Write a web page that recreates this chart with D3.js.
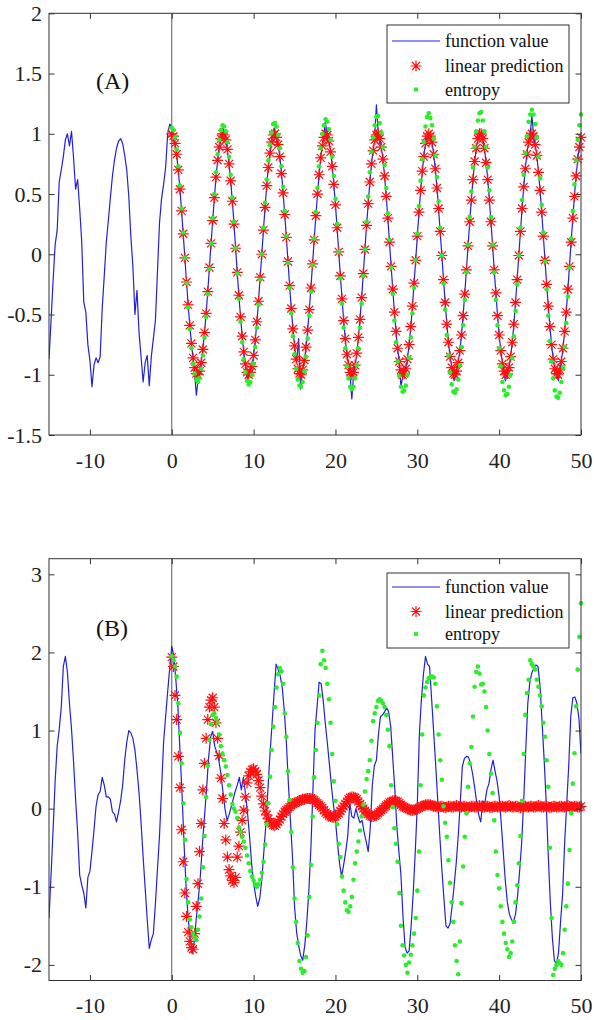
<!DOCTYPE html>
<html><head><meta charset="utf-8">
<script src="https://cdn.jsdelivr.net/npm/d3@7"></script>
<style>body{margin:0;background:#fff}svg{display:block}svg text{font-family:"Liberation Serif","Times New Roman","DejaVu Serif",serif}</style>
</head><body>
<script>
// ---------- data ----------
const xTicks = [-10, 0, 10, 20, 30, 40, 50];
const yTicksA = [2, 1.5, 1, 0.5, 0, -0.5, -1, -1.5];
const yTicksB = [3, 2, 1, 0, -1, -2];
const legendLabels = ["function value", "linear prediction", "entropy"];
const panelLabels = ["(A)", "(B)"];
const funcStart = -15, funcStep = 0.25;   // sampling grid of the function value curve
const predStart = 0, predStep = 0.2;      // sampling grid of the two predictions

const fA = [
-0.87,-0.55,-0.22,0.08,0.20,0.60,0.70,0.81,0.95,1.00,
0.90,1.02,0.80,0.54,0.62,0.38,0.10,-0.40,-0.48,-0.75,
-0.88,-1.10,-0.92,-0.86,-0.90,-0.85,-0.45,-0.18,0.10,0.28,
0.47,0.65,0.78,0.88,0.94,0.96,0.92,0.82,0.70,0.48,
0.15,-0.10,-0.50,-0.30,-0.65,-0.85,-1.06,-0.90,-0.84,-1.09,
-0.85,-0.70,-0.55,-0.15,0.26,0.46,0.58,0.72,1.00,1.08,
1.06,0.95,0.88,0.73,0.54,0.31,0.07,-0.18,-0.42,-0.63,
-0.80,-0.95,-1.17,-1.02,-0.94,-0.82,-0.65,-0.45,-0.21,0.04,
0.28,0.51,0.71,0.86,0.96,1.05,0.98,0.89,0.75,0.57,
0.35,0.10,-0.15,-0.39,-0.60,-0.78,-0.91,-1.05,-0.97,-0.95,
-0.84,-0.68,-0.48,-0.24,0.00,0.25,0.48,0.69,0.84,0.95,
1.05,0.98,0.91,0.78,0.60,0.38,0.14,-0.11,-0.36,-0.58,
-0.76,-0.90,-0.70,-1.12,-0.96,-0.86,-0.71,-0.51,-0.28,-0.03,
0.22,0.45,0.66,0.83,0.94,1.10,0.99,0.92,0.80,0.62,
0.41,0.17,-0.08,-0.32,-0.55,-0.74,-0.88,-0.97,-1.20,-0.97,
-0.88,-0.73,-0.54,-0.31,-0.06,0.19,0.42,0.64,0.81,0.93,
1.24,0.99,0.93,0.82,0.65,0.44,0.20,-0.05,-0.29,-0.52,
-0.72,-0.87,-1.10,-1.00,-0.98,-0.89,-0.75,-0.57,-0.34,-0.10,
0.15,0.39,0.60,0.79,0.92,0.99,1.00,0.95,0.83,0.67,
0.47,0.23,-0.01,-0.26,-0.49,-0.69,-0.85,-0.95,-1.05,-0.98,
-0.90,-0.77,-0.59,-0.37,-0.13,0.12,0.36,0.58,0.77,0.90,
0.98,1.00,0.96,0.85,0.70,0.50,0.27,0.02,-0.23,-0.46,
-0.67,-0.83,-0.94,-1.05,-0.99,-0.92,-0.79,-0.62,-0.40,-0.16,
0.09,0.33,0.56,0.75,0.89,0.97,1.15,0.96,0.87,0.72,
0.53,0.30,0.05,-0.20,-0.43,-0.64,-0.81,-0.93,-0.99,-1.05,
-0.93,-0.81,-0.64,-0.43,-0.19,0.06,0.30,0.53,0.72,0.87,
0.97];

const lpA = [
1.00,0.98,0.92,0.83,0.70,0.54,0.36,0.17,-0.03,-0.23,-0.42,-0.59,-0.74,-0.86,-0.94,-0.99,-1.00,-0.97,-0.90,-0.79,-0.65,-0.49,-0.31,-0.11,0.09,0.28,0.47,0.64,0.78,0.89,0.96,1.00,
0.99,0.95,0.87,0.75,0.61,0.44,0.25,0.05,-0.15,-0.34,-0.52,-0.68,-0.81,-0.91,-0.98,-1.00,-0.98,-0.93,-0.84,-0.71,-0.56,-0.39,-0.19,0.00,0.20,0.39,0.57,0.72,0.84,0.93,0.99,
1.00,0.97,0.91,0.81,0.67,0.51,0.33,0.14,-0.06,-0.26,-0.45,-0.62,-0.76,-0.87,-0.95,-0.99,-1.00,-0.96,-0.88,-0.77,-0.63,-0.46,-0.28,-0.08,0.12,0.32,0.50,0.66,0.80,0.90,0.97,1.00,
0.99,0.94,0.85,0.73,0.58,0.41,0.22,0.02,-0.18,-0.37,-0.55,-0.70,-0.83,-0.92,-0.98,-1.00,-0.98,-0.92,-0.82,-0.69,-0.54,-0.36,-0.16,0.04,0.24,0.42,0.60,0.75,0.86,0.95,0.99,
1.00,0.96,0.89,0.79,0.65,0.48,0.30,0.10,-0.10,-0.29,-0.48,-0.64,-0.78,-0.89,-0.96,-1.00,-0.99,-0.95,-0.87,-0.75,-0.60,-0.43,-0.24,-0.05,0.15,0.35,0.53,0.69,0.81,0.92,0.98,
1.00,0.98,0.93,0.83,0.71,0.55,0.38,0.19,-0.01,-0.21,-0.40,-0.58,-0.73,-0.85,-0.94,-0.99,-1.00,-0.97,-0.90,-0.80,-0.67,-0.51,-0.33,-0.13,0.07,0.27,0.45,0.62,0.77,0.88,0.96,1.00,
1.00,0.96,0.88,0.76,0.62,0.45,0.27,0.07,-0.13,-0.32,-0.51,-0.67,-0.80,-0.91,-0.97,-1.00,-0.99,-0.94,-0.85,-0.73,-0.58,-0.40,-0.21,-0.01,0.19,0.38,0.56,0.71,0.83,0.93,0.98,
1.00,0.98,0.91,0.82,0.68,0.53,0.35,0.15,-0.05,-0.25,-0.43,-0.60,-0.75,-0.87,-0.95,-0.99,-1.00,-0.96,-0.89,-0.78,-0.64,-0.48,-0.29,-0.10,0.10,0.30,0.48,0.65,0.79,0.89,0.97];

const enA = [
1.05,1.03,0.97,0.87,0.73,0.57,0.38,0.18,-0.03,-0.24,-0.44,-0.62,-0.78,-0.91,-0.99,-1.04,-1.06,-1.03,-0.95,-0.84,-0.69,-0.52,-0.33,-0.12,0.09,0.30,0.50,0.68,0.83,0.95,1.03,1.07,
1.06,1.02,0.93,0.81,0.66,0.47,0.27,0.05,-0.16,-0.37,-0.56,-0.73,-0.87,-0.98,-1.05,-1.08,-1.06,-1.00,-0.91,-0.77,-0.61,-0.42,-0.21,0.00,0.22,0.43,0.62,0.78,0.91,1.01,1.08,
1.09,1.06,0.99,0.88,0.73,0.56,0.36,0.15,-0.07,-0.28,-0.49,-0.68,-0.83,-0.95,-1.04,-1.09,-1.10,-1.06,-0.97,-0.85,-0.70,-0.51,-0.31,-0.09,0.13,0.35,0.55,0.73,0.88,1.00,1.07,1.12,
1.10,1.04,0.95,0.81,0.65,0.46,0.25,0.02,-0.20,-0.41,-0.61,-0.78,-0.93,-1.03,-1.10,-1.12,-1.10,-1.03,-0.92,-0.78,-0.61,-0.41,-0.18,0.04,0.27,0.48,0.68,0.85,0.97,1.07,1.14,
1.15,1.09,1.01,0.89,0.74,0.55,0.34,0.12,-0.11,-0.33,-0.55,-0.73,-0.89,-1.01,-1.10,-1.14,-1.13,-1.09,-1.00,-0.86,-0.69,-0.49,-0.28,-0.05,0.17,0.40,0.61,0.79,0.93,1.06,1.14,
1.17,1.13,1.07,0.96,0.82,0.64,0.44,0.22,-0.01,-0.24,-0.46,-0.67,-0.84,-0.98,-1.08,-1.14,-1.15,-1.12,-1.04,-0.92,-0.77,-0.59,-0.38,-0.15,0.08,0.31,0.52,0.72,0.89,1.02,1.11,1.17,
1.18,1.11,1.02,0.89,0.72,0.53,0.31,0.08,-0.15,-0.38,-0.59,-0.78,-0.93,-1.06,-1.13,-1.17,-1.16,-1.10,-1.00,-0.86,-0.68,-0.47,-0.25,-0.01,0.22,0.45,0.66,0.84,0.98,1.10,1.16,
1.20,1.16,1.08,0.97,0.81,0.63,0.41,0.18,-0.06,-0.29,-0.51,-0.72,-0.89,-1.03,-1.13,-1.18,-1.19,-1.15,-1.06,-0.94,-0.77,-0.57,-0.35,-0.11,0.13,0.36,0.58,0.78,0.95,1.07,1.16];

const fB = [
-1.40,-0.85,-0.27,0.35,0.80,1.02,1.30,1.82,1.95,1.75,
1.35,1.02,0.60,0.12,-0.31,-0.85,-0.98,-1.08,-1.27,-0.88,
-0.80,-0.55,-0.27,0.03,0.18,0.22,0.40,0.30,0.15,0.15,
0.12,-0.04,-0.07,-0.17,-0.04,0.10,0.30,0.62,0.85,1.00,
0.97,0.90,0.75,0.50,0.20,-0.18,-0.62,-1.02,-1.42,-1.79,
-1.68,-1.60,-1.22,-0.78,-0.35,0.25,0.85,1.18,1.50,1.80,
2.08,1.95,1.65,1.30,0.75,0.20,-0.45,-1.00,-1.40,-1.65,
-1.85,-1.70,-1.40,-1.15,-0.85,-0.45,-0.10,0.25,0.65,0.92,
0.99,0.80,0.72,0.62,0.45,0.22,0.00,-0.15,-0.08,0.02,
0.12,0.22,0.30,0.40,0.24,0.40,0.20,-0.05,-0.35,-0.70,
-0.95,-1.12,-1.25,-1.15,-0.91,-0.55,-0.20,0.25,0.70,1.08,
1.48,1.85,1.78,1.70,1.55,1.25,0.85,0.32,-0.15,-0.62,
-1.25,-1.58,-1.75,-1.88,-1.94,-1.75,-1.45,-1.05,-0.50,0.25,
1.00,1.30,1.62,1.60,1.39,1.10,0.85,0.58,0.30,0.05,
-0.15,-0.45,-0.70,-0.87,-0.72,-0.55,-0.35,0.07,-0.10,-0.12,
0.00,-0.10,-0.18,-0.15,-0.30,-0.42,-0.55,-0.25,0.30,0.55,
0.62,0.95,1.18,1.20,1.24,1.29,1.24,1.05,0.65,0.25,
-0.23,-0.55,-0.85,-1.38,-1.77,-1.85,-1.82,-1.50,-1.08,-0.55,
0.05,0.95,1.40,1.72,1.95,1.85,1.82,1.40,0.98,0.55,
0.10,-0.35,-0.78,-1.15,-1.50,-1.53,-1.47,-1.25,-0.98,-0.70,
-0.35,0.08,0.54,0.64,0.67,0.66,0.58,0.45,0.28,0.08,
-0.08,-0.17,0.10,0.07,0.24,0.32,0.50,0.62,0.48,0.35,
0.15,-0.18,-0.55,-0.92,-1.20,-1.35,-1.42,-1.45,-1.35,-1.12,
-0.80,-0.44,0.10,0.75,1.35,1.62,1.74,1.80,1.84,1.82,
1.56,1.10,0.62,0.08,-0.60,-1.20,-1.65,-1.95,-1.98,-1.85,
-1.45,-1.10,-0.44,0.05,0.55,1.18,1.42,1.43,1.35,1.15,
0.70];

const lpB = [
1.94,1.82,1.45,1.14,0.67,0.27,-0.27,-0.68,-1.08,-1.38,
-1.58,-1.70,-1.78,-1.80,-1.60,-1.25,-0.96,-0.55,-0.19,0.24,
0.58,0.90,1.14,1.30,1.39,1.42,1.30,1.10,0.90,0.68,
0.39,0.13,-0.19,-0.40,-0.62,-0.78,-0.86,-0.92,-0.95,-0.88,
-0.62,-0.48,-0.30,-0.15,-0.02,0.15,0.33,0.42,0.47,0.50,
0.51,0.48,0.44,0.36,0.27,0.16,0.06,-0.03,-0.08,-0.13,
-0.17,-0.19,-0.21,-0.22,-0.20,-0.17,-0.14,-0.10,-0.07,-0.04,
-0.02,0.00,0.02,0.04,0.06,0.07,0.08,0.09,0.10,0.11,
0.12,0.12,0.13,0.13,0.13,0.13,0.12,0.11,0.09,0.07,
0.05,0.03,0.01,-0.02,-0.05,-0.07,-0.09,-0.10,-0.11,-0.11,
-0.10,-0.08,-0.06,-0.03,0.00,0.03,0.06,0.09,0.12,0.14,
0.15,0.15,0.14,0.12,0.09,0.06,0.03,0.00,-0.03,-0.05,
-0.07,-0.09,-0.10,-0.10,-0.09,-0.08,-0.06,-0.04,-0.02,0.00,
0.02,0.04,0.06,0.08,0.09,0.10,0.10,0.10,0.09,0.07,
0.05,0.03,0.02,0.01,0.00,-0.01,-0.02,-0.02,-0.02,-0.01,
0.00,0.01,0.02,0.03,0.04,0.05,0.05,0.05,0.05,0.04,
0.03,
0.03,0.02,0.02,0.03,0.03,0.02,0.01,0.02,0.03,0.03,
0.02,0.02,0.03,0.04,0.03,0.02,0.02,0.03,0.03,0.02,
0.01,0.02,0.03,0.03,0.02,0.02,0.03,0.04,0.03,0.02,
0.02,0.03,0.03,0.02,0.01,0.02,0.03,0.03,0.02,0.02,
0.03,0.03,0.02,0.02,0.03,0.04,0.03,0.02,0.02,0.03,
0.03,0.02,0.01,0.02,0.03,0.03,0.02,0.02,0.03,0.03,
0.02,0.02,0.03,0.04,0.03,0.02,0.02,0.03,0.03,0.02,
0.01,0.02,0.03,0.03,0.02,0.02,0.03,0.03,0.02,0.02,
0.03,0.04,0.03,0.02,0.02,0.03,0.03,0.02,0.02,0.03];

const enB = [
1.95,1.90,1.82,1.69,1.35,0.97,0.58,0.07,-0.40,-0.90,
-1.20,-1.42,-1.52,-1.60,-1.65,-1.68,-1.55,-1.38,-1.15,-0.75,
-0.35,0.15,0.55,0.88,1.08,1.20,1.22,1.16,1.10,0.95,
0.80,0.70,0.62,0.54,0.43,0.30,0.18,0.06,0.00,-0.04,
-0.12,-0.24,-0.30,-0.36,-0.42,-0.50,-0.60,-0.70,-0.80,-0.87,
-0.92,-0.97,-1.00,-0.97,-0.91,-0.82,-0.68,-0.46,-0.20,0.07,
0.41,0.75,1.05,1.30,1.55,1.72,1.80,1.76,1.60,1.22,
0.92,0.48,0.11,-0.30,-0.75,-1.15,-1.45,-1.72,-1.95,-2.05,
-2.10,-2.08,-1.90,-1.62,-1.13,-0.72,-0.10,0.40,0.75,1.10,
1.45,1.85,2.02,1.90,1.80,1.60,1.40,1.10,0.70,0.35,
0.10,-0.20,-0.45,-0.62,-0.87,-1.05,-1.20,-1.30,-1.32,-1.25,
-1.13,-0.91,-0.70,-0.55,-0.42,-0.28,-0.10,0.05,0.22,0.38,
0.48,0.62,0.87,1.12,1.22,1.30,1.38,1.40,1.38,1.35,
1.30,1.20,1.01,0.80,0.30,0.02,-0.25,-0.45,-0.68,-1.08,
-1.50,-1.75,-1.88,-2.00,-2.10,-1.97,-1.87,-1.75,-1.60,-1.40,
-1.05,-0.55,0.30,0.95,1.45,1.55,1.62,1.67,1.69,1.69,
1.68,1.60,1.31,0.95,0.62,0.37,0.03,-0.18,-0.36,-0.66,
-0.95,-1.20,-1.45,-1.75,-1.95,-2.12,-1.70,-1.21,-0.74,-0.36,
-0.06,0.28,0.58,0.79,1.18,1.56,1.75,1.82,1.73,1.59,
1.60,1.50,1.30,1.00,0.70,0.45,0.20,-0.15,-0.55,-0.85,
-1.02,-1.25,-1.45,-1.60,-1.72,-1.80,-1.90,-1.85,-1.70,-1.45,
-1.20,-0.98,-0.70,-0.35,0.10,0.70,1.20,1.48,1.65,1.90,
1.85,1.82,1.78,1.65,1.56,1.45,1.31,1.10,0.92,0.62,
0.28,-0.50,-1.40,-2.13,-2.05,-2.00,-1.95,-1.98,-2.00,-1.85,
-1.55,-1.25,-0.96,-0.53,-0.06,0.32,0.71,1.31,1.78,2.20,
2.63];

// ---------- drawing ----------
const W = 594, H = 1020;
const FONT = '"Liberation Serif","Times New Roman","DejaVu Serif",serif';
const svg = d3.select("body").append("svg").attr("width", W).attr("height", H)
  .style("font-family", FONT);
svg.append("rect").attr("width", W).attr("height", H).attr("fill", "#fff");

const starPath = "M-5.5,0H5.5M0,-5.5V5.5M-4,-4L4,4M-4,4L4,-4";

function drawPanel(p) {
  const x = d3.scaleLinear().domain([-15, 50]).range([p.left, p.right]);
  const y = d3.scaleLinear().domain(p.yDomain).range([p.bottom, p.top]);
  const g = svg.append("g");
  const clipId = "clip" + p.id;
  g.append("clipPath").attr("id", clipId).append("rect")
    .attr("x", p.left).attr("y", p.top).attr("width", p.right - p.left).attr("height", p.bottom - p.top);

  // vertical line at x = 0
  g.append("line").attr("x1", x(0)).attr("x2", x(0)).attr("y1", p.top).attr("y2", p.bottom)
    .attr("stroke", "#5a5a5a").attr("stroke-width", 1);

  // function value
  const fPts = p.f.map((v, i) => [funcStart + i * funcStep, v]);
  g.append("path").datum(fPts)
    .attr("clip-path", `url(#${clipId})`)
    .attr("d", d3.line().x(d => x(d[0])).y(d => y(d[1])))
    .attr("fill", "none").attr("stroke", "#2020dd").attr("stroke-width", 1.2).attr("stroke-linejoin", "round");

  // linear prediction stars
  g.append("g").selectAll("path").data(p.lp).join("path")
    .attr("transform", (v, i) => `translate(${x(predStart + i * predStep)},${y(v)})`)
    .attr("d", starPath).attr("fill", "none").attr("stroke", "#ff1010").attr("stroke-width", 1.2);

  // entropy dots
  g.append("g").selectAll("circle").data(p.en).join("circle")
    .attr("cx", (v, i) => x(predStart + i * predStep)).attr("cy", v => y(v))
    .attr("r", 2.3).attr("fill", "#2aee2a");

  // axes (inward ticks, MATLAB box style)
  const fmt = d => String(d);
  const tl = 5.5;
  const bottom = g.append("g").attr("transform", `translate(0,${p.bottom})`)
    .call(d3.axisBottom(x).tickValues(xTicks).tickSize(-tl).tickPadding(17).tickFormat(fmt));
  const top = g.append("g").attr("transform", `translate(0,${p.top})`)
    .call(d3.axisTop(x).tickValues(xTicks).tickSize(-tl).tickFormat(""));
  const left = g.append("g").attr("transform", `translate(${p.left},0)`)
    .call(d3.axisLeft(y).tickValues(p.yTicks).tickSize(-tl).tickPadding(7).tickFormat(fmt));
  const right = g.append("g").attr("transform", `translate(${p.right},0)`)
    .call(d3.axisRight(y).tickValues(p.yTicks).tickSize(-tl).tickFormat(""));
  [bottom, top, left, right].forEach(a => {
    a.attr("font-family", null).attr("font-size", null);
    a.select(".domain").remove();
    a.selectAll("line").attr("stroke", "#333");
    a.selectAll("text").style("font-family", FONT).style("font-size", "22px").attr("fill", "#222");
  });
  g.append("rect").attr("x", p.left).attr("y", p.top)
    .attr("width", p.right - p.left).attr("height", p.bottom - p.top)
    .attr("fill", "none").attr("stroke", "#333").attr("stroke-width", 1);

  // panel label
  g.append("text").attr("x", p.labelX).attr("y", p.labelY).text(p.label)
    .style("font-family", FONT).style("font-size", "24px").attr("fill", "#111");

  // legend
  const L = p.legend;
  g.append("rect").attr("x", L.x).attr("y", L.y).attr("width", L.w).attr("height", L.h)
    .attr("fill", "#fff").attr("stroke", "#333").attr("stroke-width", 1);
  const sx0 = L.x + 5, sx1 = L.x + 53, sxm = (sx0 + sx1) / 2;
  g.append("line").attr("x1", sx0).attr("x2", sx1).attr("y1", L.rows[0]).attr("y2", L.rows[0])
    .attr("stroke", "#2020dd").attr("stroke-width", 1.2);
  g.append("path").attr("transform", `translate(${sxm},${L.rows[1]})`).attr("d", starPath)
    .attr("fill", "none").attr("stroke", "#ff1010").attr("stroke-width", 1.2);
  g.append("circle").attr("cx", sxm).attr("cy", L.rows[2]).attr("r", 2.3).attr("fill", "#2aee2a");
  legendLabels.forEach((t, i) => {
    g.append("text").attr("x", L.x + 58).attr("y", L.rows[i] + 6).text(t)
      .style("font-family", FONT).style("font-size", "18px").attr("fill", "#111");
  });
}

drawPanel({
  id: "A", left: 49, right: 581, top: 13.3, bottom: 435, yDomain: [-1.5, 2], yTicks: yTicksA,
  f: fA, lp: lpA, en: enA, label: panelLabels[0], labelX: 96, labelY: 89,
  legend: { x: 387, y: 25, w: 182, h: 78, rows: [41, 66, 89.5] }
});
drawPanel({
  id: "B", left: 49, right: 581, top: 558.7, bottom: 980.5, yDomain: [-2.2, 3.2], yTicks: yTicksB,
  f: fB, lp: lpB, en: enB, label: panelLabels[1], labelX: 96, labelY: 636,
  legend: { x: 387, y: 573, w: 182, h: 75, rows: [587, 611.5, 634] }
});
</script>
</body></html>
